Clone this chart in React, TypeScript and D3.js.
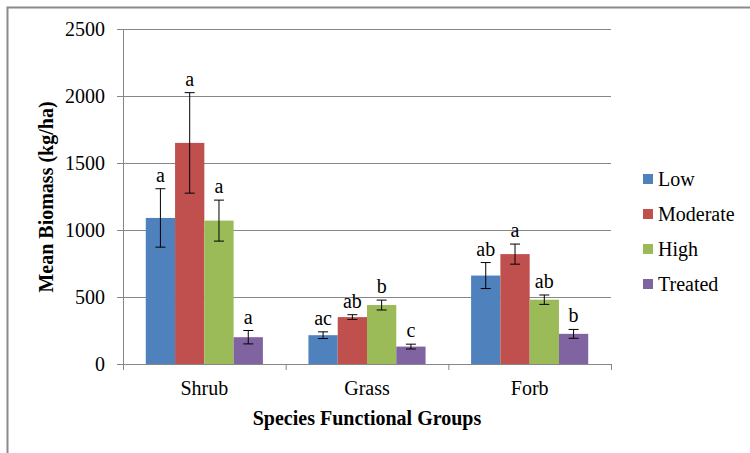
import React from 'react';
import * as d3 from 'd3';

const groups = ['Shrub', 'Grass', 'Forb'];
const series = ['Low', 'Moderate', 'High', 'Treated'];
const colors = ['#4F81BD', '#C0504D', '#9BBB59', '#8064A2'];

// mean biomass per series, in group order
const lowValues = [1090, 215, 660];
const moderateValues = [1650, 350, 820];
const highValues = [1070, 440, 480];
const treatedValues = [200, 130, 225];

// standard errors
const lowErrors = [218, 25, 97];
const moderateErrors = [375, 18, 75];
const highErrors = [153, 37, 35];
const treatedErrors = [50, 18, 33];

// significance letters
const lowLetters = ['a', 'ac', 'ab'];
const moderateLetters = ['a', 'ab', 'a'];
const highLetters = ['a', 'b', 'ab'];
const treatedLetters = ['a', 'c', 'b'];

const yTicks = [0, 500, 1000, 1500, 2000, 2500];

const values = [lowValues, moderateValues, highValues, treatedValues];
const errors = [lowErrors, moderateErrors, highErrors, treatedErrors];
const letters = [lowLetters, moderateLetters, highLetters, treatedLetters];

const W = 750;
const H = 453;
const plot = { left: 123, right: 611, top: 29, bottom: 364 };
const gray = '#868686';
const serif = { fontFamily: "'Liberation Serif', 'Times New Roman', serif" };

const App: React.FC = () => {
  const x0 = d3.scaleBand<string>().domain(groups).range([plot.left, plot.right]).padding(0);
  const bw = x0.bandwidth();
  const x1 = d3.scaleBand<string>().domain(series).range([bw * 0.14, bw * 0.86]).padding(0);
  const y = d3.scaleLinear().domain([0, 2500]).range([plot.bottom, plot.top]);

  const bounds = [...groups.map(g => x0(g) as number), plot.right];

  return (
    <svg
      width={W}
      height={H}
      style={{ position: 'absolute', left: 0, top: 0, background: '#fff' }}
    >
      <rect x={0} y={0} width={W} height={H} fill="#fff" />
      {/* outer frame, cut off at the right and bottom */}
      <path d={`M7.5,${H + 5} V7.5 H${W + 5}`} fill="none" stroke="#8a8a8a" strokeWidth={2} />

      {/* gridlines */}
      {yTicks.filter(t => t > 0).map(t => (
        <line key={t} x1={plot.left} x2={plot.right} y1={Math.round(y(t)) + 0.5} y2={Math.round(y(t)) + 0.5} stroke={gray} strokeWidth={1} />
      ))}

      {/* y axis */}
      <line x1={plot.left + 0.5} x2={plot.left + 0.5} y1={plot.top} y2={plot.bottom} stroke={gray} />
      {yTicks.map(t => (
        <g key={t}>
          <line x1={plot.left - 6} x2={plot.left} y1={Math.round(y(t)) + 0.5} y2={Math.round(y(t)) + 0.5} stroke={gray} />
          <text x={105} y={y(t) + 7} textAnchor="end" fontSize={20} fill="#000" style={serif}>{t}</text>
        </g>
      ))}

      {/* bars with error bars and letters */}
      {groups.map((g, gi) => (
        <g key={g} transform={`translate(${x0(g)},0)`}>
          {series.map((s, si) => {
            const v = values[si][gi];
            const e = errors[si][gi];
            const bx = x1(s) as number;
            const cx = bx + x1.bandwidth() / 2;
            return (
              <g key={s}>
                <rect x={bx} y={y(v)} width={x1.bandwidth()} height={y(0) - y(v)} fill={colors[si]} />
                <line x1={cx} x2={cx} y1={y(v + e)} y2={y(v - e)} stroke="#000" strokeWidth={1} />
                <line x1={cx - 5} x2={cx + 5} y1={y(v + e)} y2={y(v + e)} stroke="#000" strokeWidth={1} />
                <line x1={cx - 5} x2={cx + 5} y1={y(v - e)} y2={y(v - e)} stroke="#000" strokeWidth={1} />
                <text x={cx} y={y(v + e) - 7} textAnchor="middle" fontSize={20} fill="#000" style={serif}>{letters[si][gi]}</text>
              </g>
            );
          })}
        </g>
      ))}

      {/* x axis */}
      <line x1={plot.left} x2={plot.right} y1={plot.bottom + 0.5} y2={plot.bottom + 0.5} stroke={gray} />
      {bounds.map((b, i) => (
        <line key={i} x1={b + 0.5} x2={b + 0.5} y1={plot.bottom} y2={plot.bottom + 6} stroke={gray} />
      ))}
      {groups.map(g => (
        <text key={g} x={(x0(g) as number) + bw / 2} y={395} textAnchor="middle" fontSize={20} fill="#000" style={serif}>{g}</text>
      ))}

      {/* axis titles */}
      <text x={(plot.left + plot.right) / 2} y={425} textAnchor="middle" fontSize={20} fontWeight="bold" fill="#000" style={serif}>
        Species Functional Groups
      </text>
      <text transform="translate(53,197) rotate(-90)" textAnchor="middle" fontSize={20} fontWeight="bold" fill="#000" style={serif}>
        Mean Biomass (kg/ha)
      </text>

      {/* legend */}
      {series.map((s, i) => (
        <g key={s} transform={`translate(643,${179 + i * 35})`}>
          <rect x={0} y={-5} width={10} height={10} fill={colors[i]} />
          <text x={15} y={7} fontSize={20} fill="#000" style={serif}>{s}</text>
        </g>
      ))}
    </svg>
  );
};

export default App;
